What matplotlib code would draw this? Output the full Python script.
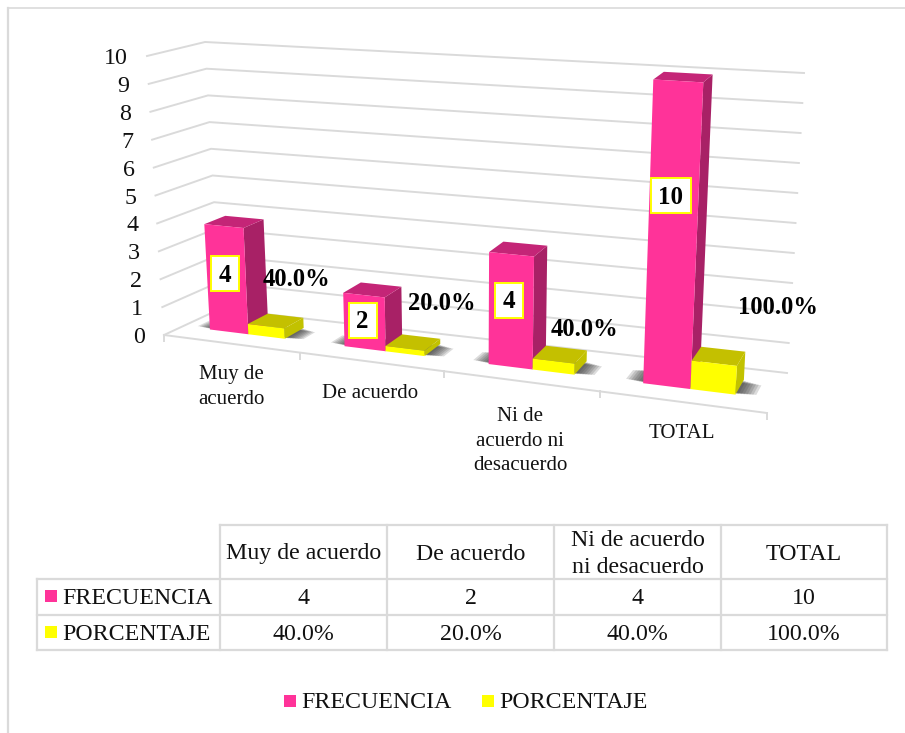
import numpy as np
import matplotlib
matplotlib.use('Agg')
import matplotlib.pyplot as plt
from matplotlib.patches import Polygon, Rectangle

plt.rcParams['font.family'] = ['Liberation Serif', 'DejaVu Serif']

categories = ['Muy de acuerdo', 'De acuerdo', 'Ni de acuerdo ni desacuerdo', 'TOTAL']
axis_labels = ['Muy de\nacuerdo', 'De acuerdo', 'Ni de\nacuerdo ni\ndesacuerdo', 'TOTAL']
table_heads = ['Muy de acuerdo', 'De acuerdo', 'Ni de acuerdo\nni desacuerdo', 'TOTAL']
frecuencia = [4, 2, 4, 10]
porcentaje = [0.4, 0.2, 0.4, 1.0]
freq_labels = ['4', '2', '4', '10']
pct_labels = ['40.0%', '20.0%', '40.0%', '100.0%']
y_ticks = [0, 1, 2, 3, 4, 5, 6, 7, 8, 9, 10]

PINK = '#ff3399'
PINK_SIDE = '#a82166'
PINK_TOP = '#c42577'
YELLOW = '#ffff00'
YELLOW_SIDE = '#c2c200'
YELLOW_TOP = '#c4c000'
GRID = '#dadada'
TXT = '#111111'

fig = plt.figure(figsize=(9.05, 7.33), dpi=100)
ax = fig.add_axes([0, 0, 1, 1])
ax.set_xlim(0, 905)
ax.set_ylim(733, 0)
ax.axis('off')

# corners of the 3d box in pixels, [t, depth, value]
FL0 = np.array([164, 335.0])
FL10 = np.array([147, 56.0])
BL0 = np.array([220, 309.0])
BL10 = np.array([205, 42.0])
FR0 = np.array([767, 413.0])
FR10 = np.array([785, 95.0])
BR0 = np.array([787, 373.0])
BR10 = np.array([804, 73.0])


def proj(t, d, v):
    # t along categories 0-1, d depth 0-1, v value 0-10
    u = t / (1 + 0.15 * (1 - t))  # perspective on the x axis
    s = v / 10.0
    front = (1 - u) * ((1 - s) * FL0 + s * FL10) + u * ((1 - s) * FR0 + s * FR10)
    back = (1 - u) * ((1 - s) * BL0 + s * BL10) + u * ((1 - s) * BR0 + s * BR10)
    return (1 - d) * front + d * back


def poly(pts, color, z, alpha=None):
    ax.add_patch(Polygon(pts, closed=True, facecolor=color, edgecolor='none', zorder=z, alpha=alpha))


def bar3d(t0, t1, v, front, side, top, z):
    d0, d1 = 0.34, 0.72
    v = v * (1 - 0.08 * (1 - v / 10.0))  # bars sit a bit lower than the grid
    poly([proj(t0, d0, 0), proj(t1, d0, 0), proj(t1, d0, v), proj(t0, d0, v)], front, z + 0.2)
    poly([proj(t1, d0, 0), proj(t1, d1, 0), proj(t1, d1, v), proj(t1, d0, v)], side, z)
    poly([proj(t0, d0, v), proj(t1, d0, v), proj(t1, d1, v), proj(t0, d1, v)], top, z + 0.1)


# outer frame
ax.plot([8, 8], [733, 8], color=GRID, lw=1.6, zorder=1)
ax.plot([8, 905], [8, 8], color=GRID, lw=1.2, zorder=1)

# walls and floor
for v in y_ticks:
    a, b, c = proj(0, 0, v), proj(0, 1, v), proj(1, 1, v)
    ax.plot([a[0], b[0], c[0]], [a[1], b[1], c[1]], color=GRID, lw=1.4, zorder=2)
    ax.text(a[0] - 19, a[1] + 2.5, str(v), ha='right', va='center', fontsize=17.3, color=TXT, zorder=6)

a, b = proj(0, 0, 0), proj(1, 0, 0)
ax.plot([a[0], b[0]], [a[1], b[1]], color=GRID, lw=1.4, zorder=2)
for i in range(len(categories) + 1):
    p = proj(i / len(categories), 0, 0)
    ax.plot([p[0], p[0]], [p[1], p[1] + 6], color=GRID, lw=1.4, zorder=2)

# bars with soft floor shadow
w_pink = 0.073
w_yellow = 0.068
for i in range(len(categories)):
    c = (i + 0.5) / len(categories)
    for k in range(7):
        e = 0.0042 * (7 - k)
        d0 = 0.36 + 0.005 * (7 - k)
        d1 = 0.70 - 0.009 * (7 - k)
        pts = [proj(c - w_pink - e, d0, 0), proj(c + w_yellow + e, d0, 0), proj(c + w_yellow + e, d1, 0), proj(c - w_pink - e, d1, 0)]
        poly(pts, '#303030', 3, alpha=0.17)
    bar3d(c - w_pink, c, frecuencia[i], PINK, PINK_SIDE, PINK_TOP, 4)
    bar3d(c, c + w_yellow, porcentaje[i], YELLOW, YELLOW_SIDE, YELLOW_TOP, 4.5)

# data labels
box_pos = [(225, 273), (362.5, 320), (509, 300), (670.5, 195)]
box_size = [(28, 35), (28, 35), (28, 35), (40, 35)]
for i in range(len(freq_labels)):
    x, y = box_pos[i]
    bw, bh = box_size[i]
    ax.add_patch(Rectangle((x - bw / 2, y - bh / 2), bw, bh, facecolor='white', edgecolor=YELLOW, lw=1.4, zorder=7))
    ax.text(x, y + 2, freq_labels[i], ha='center', va='center', fontsize=18, fontweight='bold', zorder=8)

pct_pos = [(296.5, 279), (442, 303), (584, 329), (777.5, 307)]
for i in range(len(pct_labels)):
    ax.text(pct_pos[i][0], pct_pos[i][1], pct_labels[i], ha='center', va='center', fontsize=17.7, fontweight='bold', zorder=8)

# category labels under the floor
label_pos = [(231, 387), (370, 394), (520, 441), (682, 433)]
for i in range(len(axis_labels)):
    ax.text(label_pos[i][0], label_pos[i][1], axis_labels[i], ha='center', va='center', fontsize=15, color=TXT, linespacing=1.37)

# data table
xs = [37, 220, 387, 554, 721, 887]
ys = [525, 579, 615, 650]
ax.plot([220, 887], [ys[0], ys[0]], color=GRID, lw=1.6, zorder=2)
for y in ys[1:]:
    ax.plot([xs[0], xs[-1]], [y, y], color=GRID, lw=1.6, zorder=2)
ax.plot([xs[0], xs[0]], [ys[1], ys[3]], color=GRID, lw=1.6, zorder=2)
for x in xs[1:]:
    ax.plot([x, x], [ys[0], ys[3]], color=GRID, lw=1.6, zorder=2)

rows = [freq_labels, pct_labels]
names = ['FRECUENCIA', 'PORCENTAJE']
colors = [PINK, YELLOW]
for i in range(len(table_heads)):
    cx = (xs[i + 1] + xs[i + 2]) / 2
    ax.text(cx, (ys[0] + ys[1]) / 2 + 2, table_heads[i], ha='center', va='center', fontsize=17.2, color=TXT, linespacing=1.37)
    for r in range(2):
        ax.text(cx, (ys[r + 1] + ys[r + 2]) / 2 + 2, rows[r][i], ha='center', va='center', fontsize=17.2, color=TXT)
for r in range(2):
    cy = (ys[r + 1] + ys[r + 2]) / 2
    ax.add_patch(Rectangle((45, cy - 7), 12, 12, facecolor=colors[r], edgecolor='none'))
    ax.text(62, cy + 2, names[r], ha='left', va='center', fontsize=17.2, color=TXT)

# legend
leg_x = [284, 482]
for r in range(2):
    ax.add_patch(Rectangle((leg_x[r], 695), 12, 12, facecolor=colors[r], edgecolor='none'))
    ax.text(leg_x[r] + 17, 703, names[r], ha='left', va='center', fontsize=17.2, color=TXT)

fig.savefig('out.png', dpi=100)
